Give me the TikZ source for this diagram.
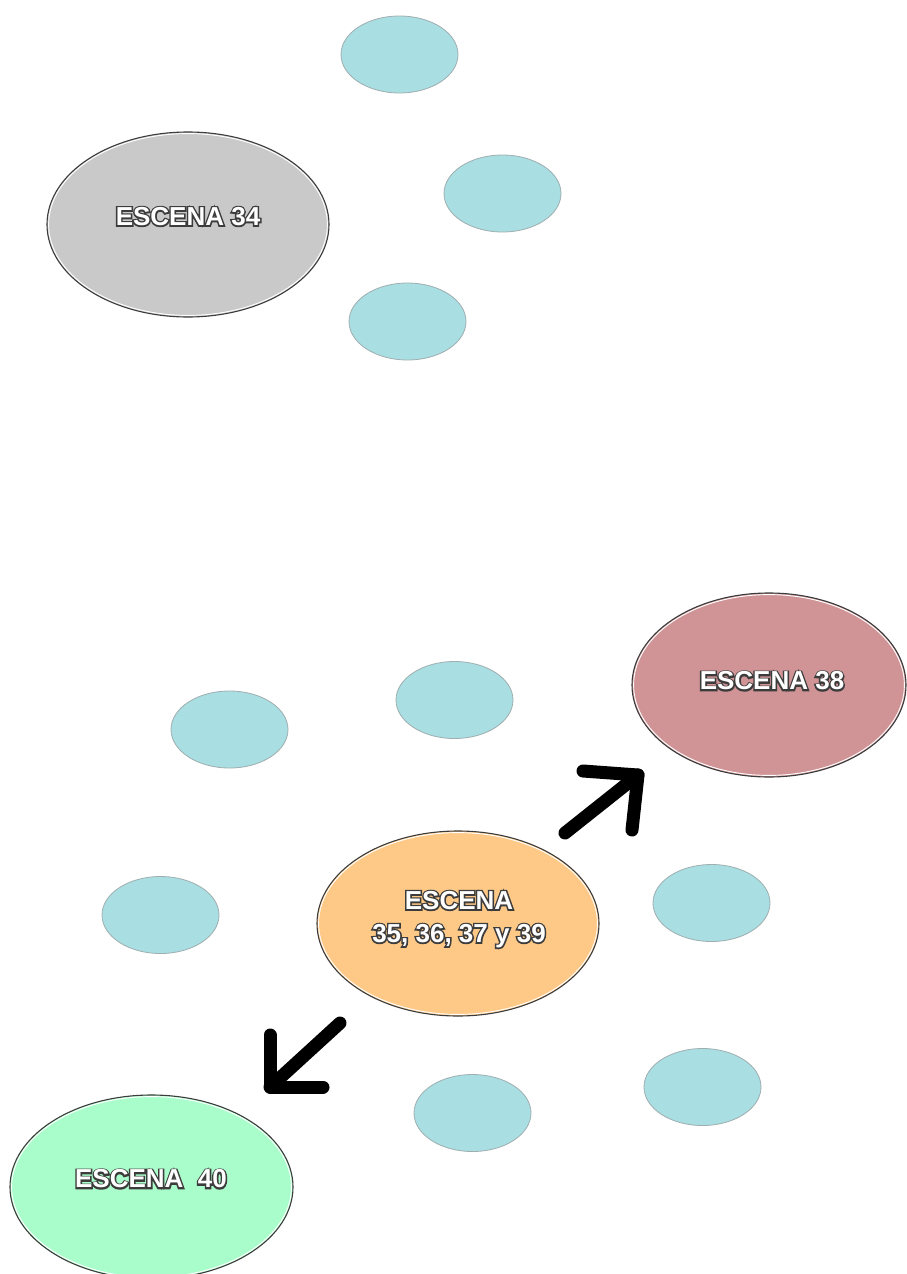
\documentclass[tikz,border=0pt]{standalone}
\usepackage{fontspec}
\setmainfont{Liberation Sans}
\usetikzlibrary{shapes.geometric}

\definecolor{bubble}{HTML}{A9DEE2}
\definecolor{bubbleedge}{HTML}{9FAEB0}
\definecolor{scenegray}{HTML}{C9C9C9}
\definecolor{scenered}{HTML}{D09496}
\definecolor{sceneorange}{HTML}{FEC886}
\definecolor{scenegreen}{HTML}{A9FDCA}
\definecolor{edge}{HTML}{3C3C3C}

\tikzset{
  bubble/.style={ellipse, fill=bubble, draw=bubbleedge, line width=0.8pt,
    minimum width=117pt, minimum height=77pt, inner sep=0pt},
  scene/.style={ellipse, draw=edge, line width=1.1pt,
    minimum width=282pt, minimum height=185pt, inner sep=0pt},
  lbl/.style={font=\bfseries\fontsize{26}{33}\selectfont, align=center, inner sep=0pt},
  bigarrow/.style={line width=13pt, line cap=round, line join=round, draw=black},
}

% white lettering with a dark rim: a stroked copy underneath, the filled text on top
\newcommand\olt[1]{{%
  \rlap{\color{edge}\special{pdf:literal direct 0.235 0.235 0.235 RG 1 Tr 3 w}#1%
    \special{pdf:literal direct 0 Tr}}%
  \color{white}#1}}
% thin white ring just inside a scene ellipse
\newcommand\innerring[3]{%
  \draw[white, line width=0.9pt] (#1.center) ellipse ({#2-1.6} and {#3-1.6});
}

\begin{document}
\begin{tikzpicture}[x=1pt, y=-1pt]
\useasboundingbox (0,0) rectangle (906,1274);
\fill[white] (0,0) rectangle (906,1274);

% upper group
\node[scene, fill=scenegray] (s34) at (188,224.5) {};
\innerring{s34}{141}{92.5}
\node[bubble] (b1) at (399.5,54.5) {};
\node[bubble] (b2) at (502.5,193.5) {};
\node[bubble] (b3) at (407.5,321.5) {};
\node[lbl] (t34) at (188,216.5) {\olt{ESCENA 34}};

% lower group
\node[scene, fill=scenered, minimum width=274pt, minimum height=184pt] (s38) at (769,685) {};
\innerring{s38}{137}{92}
\node[bubble] (b4) at (229.5,729.5) {};
\node[bubble] (b5) at (454.5,700) {};
\node[scene, fill=sceneorange] (s35) at (458,923.5) {};
\innerring{s35}{141}{92.5}
\node[bubble] (b6) at (160.5,915) {};
\node[bubble] (b7) at (711.5,903) {};
\node[bubble] (b8) at (702.5,1087) {};
\node[bubble] (b9) at (472.5,1113) {};
\node[scene, fill=scenegreen, minimum width=283pt, minimum height=184pt] (s40) at (151.5,1187) {};
\innerring{s40}{141.5}{92}

\node[lbl] (t38) at (772,681) {\olt{ESCENA 38}};
\node[lbl] (t35) at (459,919.5) {\olt{ESCENA}\\\olt{35, 36, 37 y 39}};
\node[lbl] (t40) at (151,1179) {\olt{ESCENA\ \ 40}};

% arrow toward scene 38
\coordinate (a1s) at (565,833);
\coordinate (a1c) at (638,775);
\coordinate (a1l) at (583,771);
\coordinate (a1b) at (632,830);
\draw[bigarrow] (a1s) -- (a1c);
\draw[bigarrow] (a1l) -- (a1c) -- (a1b);

% arrow toward scene 40
\coordinate (a2s) at (340,1023);
\coordinate (a2c) at (270,1087);
\coordinate (a2t) at (270,1035);
\coordinate (a2r) at (323,1087);
\draw[bigarrow] (a2s) -- (a2c);
\draw[bigarrow] (a2t) -- (a2c) -- (a2r);
\end{tikzpicture}
\end{document}
